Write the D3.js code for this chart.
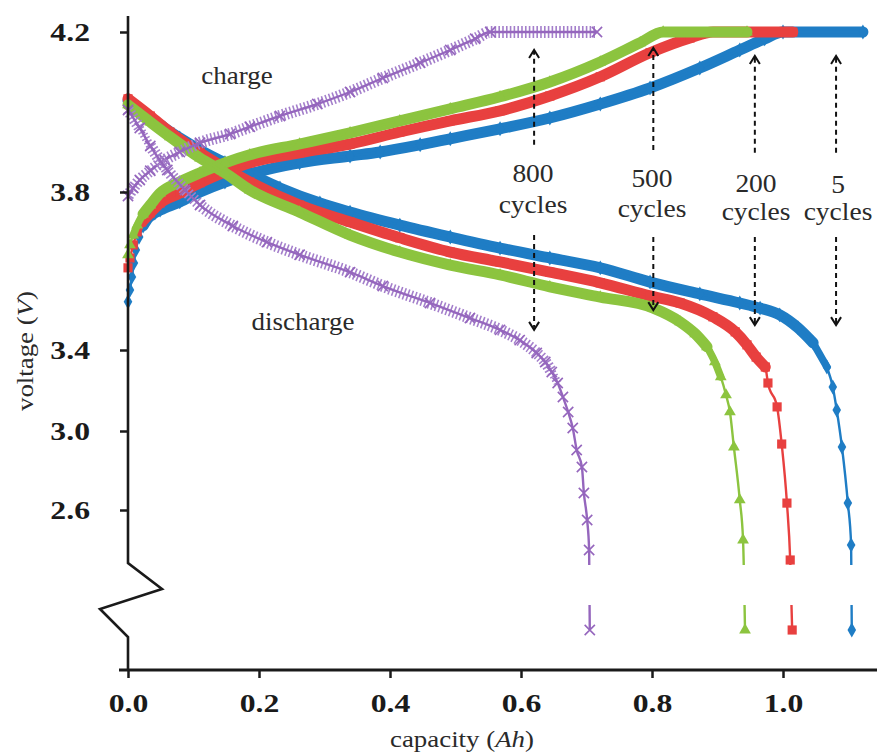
<!DOCTYPE html>
<html>
<head>
<meta charset="utf-8">
<script src="https://cdn.jsdelivr.net/npm/d3@7"></script>
<style>
  html, body { margin: 0; padding: 0; background: #fff; }
  svg { display: block; }
  text { font-family: 'Liberation Serif', 'Times New Roman', serif; }
</style>
</head>
<body>
<svg id="chart" width="877" height="753"></svg>
<script>
// ---- charge / discharge curves: capacity (Ah) and voltage (V) ----
const chargeCap5 = [0, 0.003, 0.006, 0.009, 0.012, 0.017, 0.023, 0.031, 0.041, 0.049, 0.079, 0.110, 0.148, 0.186, 0.262, 0.339, 0.385, 0.446, 0.492, 0.568, 0.644, 0.721, 0.797, 0.873, 0.934, 0.972, 1.000, 1.122];
const chargeV5   = [3.522, 3.552, 3.585, 3.620, 3.653, 3.686, 3.714, 3.734, 3.747, 3.754, 3.775, 3.800, 3.825, 3.845, 3.873, 3.890, 3.900, 3.918, 3.933, 3.958, 3.985, 4.020, 4.060, 4.110, 4.155, 4.183, 4.200, 4.200];
const dischargeCap5 = [0, 0.018, 0.034, 0.056, 0.079, 0.110, 0.148, 0.186, 0.232, 0.293, 0.339, 0.415, 0.492, 0.568, 0.644, 0.721, 0.797, 0.873, 0.934, 0.965, 0.995, 1.023, 1.046, 1.067, 1.076, 1.082, 1.090, 1.099, 1.104, 1.105];
const dischargeV5   = [4.028, 4.005, 3.985, 3.960, 3.935, 3.905, 3.873, 3.845, 3.810, 3.772, 3.749, 3.716, 3.686, 3.658, 3.633, 3.608, 3.572, 3.542, 3.519, 3.506, 3.489, 3.456, 3.418, 3.316, 3.217, 3.104, 2.919, 2.635, 2.425, 2.000];

const chargeCap200 = [0, 0.003, 0.008, 0.014, 0.021, 0.034, 0.049, 0.079, 0.110, 0.148, 0.186, 0.262, 0.339, 0.415, 0.492, 0.568, 0.644, 0.721, 0.797, 0.858, 0.893, 1.015];
const chargeV200   = [3.608, 3.633, 3.666, 3.699, 3.724, 3.747, 3.772, 3.797, 3.823, 3.850, 3.873, 3.898, 3.920, 3.950, 3.978, 4.003, 4.040, 4.088, 4.148, 4.185, 4.200, 4.200];
const dischargeCap200 = [0, 0.034, 0.064, 0.110, 0.148, 0.186, 0.262, 0.339, 0.415, 0.492, 0.568, 0.644, 0.721, 0.797, 0.843, 0.893, 0.927, 0.945, 0.959, 0.973, 0.977, 0.991, 0.998, 1.006, 1.011, 1.014];
const dischargeV200   = [4.033, 3.990, 3.950, 3.898, 3.860, 3.825, 3.767, 3.724, 3.684, 3.648, 3.623, 3.597, 3.570, 3.537, 3.519, 3.484, 3.446, 3.413, 3.365, 3.316, 3.237, 3.119, 2.934, 2.635, 2.350, 2.000];

const chargeCap500 = [0, 0.003, 0.008, 0.014, 0.023, 0.034, 0.049, 0.079, 0.110, 0.148, 0.186, 0.262, 0.339, 0.415, 0.492, 0.568, 0.644, 0.721, 0.782, 0.817, 0.945];
const chargeV500   = [3.641, 3.666, 3.691, 3.716, 3.744, 3.767, 3.797, 3.825, 3.848, 3.873, 3.893, 3.920, 3.948, 3.978, 4.008, 4.038, 4.075, 4.125, 4.173, 4.200, 4.200];
const dischargeCap500 = [0, 0.034, 0.064, 0.110, 0.148, 0.186, 0.262, 0.339, 0.415, 0.492, 0.568, 0.644, 0.721, 0.802, 0.843, 0.866, 0.884, 0.896, 0.905, 0.913, 0.919, 0.925, 0.934, 0.939, 0.942];
const dischargeV500   = [4.018, 3.975, 3.938, 3.885, 3.848, 3.805, 3.749, 3.691, 3.648, 3.615, 3.590, 3.560, 3.534, 3.506, 3.471, 3.441, 3.408, 3.341, 3.267, 3.178, 3.094, 2.919, 2.651, 2.450, 2.000];

const chargeCap800 = [0, 0.008, 0.018, 0.034, 0.056, 0.079, 0.110, 0.156, 0.186, 0.232, 0.289, 0.339, 0.389, 0.446, 0.492, 0.530, 0.553, 0.716];
const chargeV800   = [3.790, 3.810, 3.830, 3.853, 3.880, 3.900, 3.923, 3.945, 3.963, 3.990, 4.020, 4.050, 4.085, 4.123, 4.155, 4.183, 4.200, 4.200];
const dischargeCap800 = [0, 0.018, 0.034, 0.060, 0.087, 0.110, 0.160, 0.212, 0.262, 0.339, 0.389, 0.461, 0.522, 0.568, 0.598, 0.624, 0.637, 0.647, 0.656, 0.664, 0.672, 0.679, 0.685, 0.693, 0.696, 0.701, 0.704, 0.705];
const dischargeV800   = [4.005, 3.960, 3.915, 3.855, 3.805, 3.767, 3.714, 3.673, 3.641, 3.597, 3.562, 3.519, 3.481, 3.451, 3.425, 3.385, 3.341, 3.291, 3.237, 3.168, 3.094, 3.015, 2.904, 2.818, 2.686, 2.550, 2.400, 2.000];

// ---- axis ticks ----
const capTicks = [0, 0.2, 0.4, 0.6, 0.8, 1.0];
const voltTicks = [2.6, 3.0, 3.4, 3.8, 4.2];

// ---- cycle annotations (capacity of the arrow, voltages of its ends) ----
const cycleNames = ["800", "500", "200", "5"];
const cycleArrowCap = [0.620, 0.802, 0.957, 1.081];
const upperTailV = [3.918, 3.905, 3.898, 3.898];
const upperTipV  = [4.155, 4.160, 4.140, 4.140];
const lowerTailV = [3.691, 3.686, 3.686, 3.686];
const lowerTipV  = [3.451, 3.501, 3.463, 3.463];

const W = 877, H = 753;
const svg = d3.select("#chart");
const ink = "#1a1a1a";
const serif = "'Liberation Serif', 'Times New Roman', serif";

// capacity axis runs to the right edge; voltage axis is stretched above 3.4 V
const x = d3.scaleLinear().domain([0, 1.1435]).range([128, W]);
const y = d3.scaleLinear()
  .domain([1.8, 2.6, 3.0, 3.4, 3.8, 4.2])
  .range([670, 510, 431, 350, 192, 32]);

// axis break band
const gapTopV = 2.325, gapBottomV = 2.125;

const series = [
  { color: "#1f7dc5", band: "#1f7dc5", symbol: d3.symbolDiamond, size: 64, stroke: false,
    curves: [[chargeCap5, chargeV5], [dischargeCap5, dischargeV5]] },
  { color: "#e8403f", band: "#e8403f", symbol: d3.symbolSquare, size: 84, stroke: false,
    curves: [[chargeCap200, chargeV200], [dischargeCap200, dischargeV200]] },
  { color: "#8cc43f", band: "#8cc43f", symbol: d3.symbolTriangle, size: 60, stroke: false,
    curves: [[chargeCap500, chargeV500], [dischargeCap500, dischargeV500]] },
  { color: "#9566bd", band: "#a47fcb", symbol: d3.symbolTimes, size: 70, stroke: true,
    curves: [[chargeCap800, chargeV800], [dischargeCap800, dischargeV800]] }
];

const line = d3.line().x(d => x(d[0])).y(d => y(d[1])).curve(d3.curveMonotoneX);
const plot = svg.append("g");

// band width from how steep a stretch of curve is on screen
function bandWidth(a, b) {
  const dx = Math.abs(x(b[0]) - x(a[0]));
  const dy = Math.abs(y(b[1]) - y(a[1]));
  if (dx === 0) return 0;
  const m = dy / dx;
  return m < 1.6 ? 11 : (m < 2.6 ? 7.5 : 0);
}

series.forEach(s => {
  const g = plot.append("g");
  s.curves.forEach(([caps, volts]) => {
    const pts = caps.map((c, i) => [c, volts[i]]);

    // where successive samples sit close together the markers merge into a band
    const runs = [];
    let run = null;
    for (let i = 0; i < pts.length - 1; i++) {
      const w = bandWidth(pts[i], pts[i + 1]);
      if (w > 0) {
        if (!run || run.w !== w) { run = { w, pts: [pts[i]] }; runs.push(run); }
        run.pts.push(pts[i + 1]);
      } else {
        run = null;
      }
    }
    runs.forEach(r => {
      g.append("path")
        .attr("d", line(r.pts))
        .attr("fill", "none")
        .attr("stroke", s.band)
        .attr("stroke-width", s.stroke ? r.w + 1 : r.w)
        .attr("stroke-dasharray", s.stroke ? "1.6,2.2" : null)
        .attr("stroke-linecap", s.stroke ? "butt" : "round")
        .attr("stroke-linejoin", "round");
    });

    g.append("path")
      .attr("d", line(pts))
      .attr("fill", "none")
      .attr("stroke", s.color)
      .attr("stroke-width", 2.4);

    const sym = d3.symbol().type(s.symbol).size(s.size);
    g.selectAll(null)
      .data(pts)
      .join("path")
      .attr("transform", d => `translate(${x(d[0])},${y(d[1])})`)
      .attr("d", sym)
      .attr("fill", s.stroke ? "none" : s.color)
      .attr("stroke", s.stroke ? s.color : "none")
      .attr("stroke-width", s.stroke ? 1.6 : 0);
  });
});

// blank out the broken part of the voltage range
svg.append("rect")
  .attr("x", x(0) + 4)
  .attr("y", y(gapTopV))
  .attr("width", W - x(0) - 4)
  .attr("height", y(gapBottomV) - y(gapTopV))
  .attr("fill", "#fff");

// ---- axes ----
const tickStretch = 1.22;
const xAxis = svg.append("g")
  .attr("transform", `translate(0,${y(1.8)})`)
  .call(d3.axisBottom(x).tickValues(capTicks).tickFormat(d3.format(".1f")).tickSize(8).tickSizeOuter(0));
xAxis.select(".domain").remove();
xAxis.selectAll(".tick line").attr("stroke", ink).attr("stroke-width", 2.5);
xAxis.selectAll(".tick text")
  .attr("y", 42).attr("dy", 0)
  .attr("transform", `scale(${tickStretch},1)`)
  .attr("font-family", serif)
  .attr("font-size", 26).attr("font-weight", "bold").attr("fill", ink);
svg.append("line")
  .attr("x1", x(0) - 9).attr("x2", W)
  .attr("y1", y(1.8)).attr("y2", y(1.8))
  .attr("stroke", ink).attr("stroke-width", 2.8);

const yAxis = svg.append("g")
  .attr("transform", `translate(${x(0)},0)`)
  .call(d3.axisLeft(y).tickValues(voltTicks).tickFormat(d3.format(".1f")).tickSize(8));
yAxis.select(".domain").remove();
yAxis.selectAll(".tick line").attr("stroke", ink).attr("stroke-width", 2.5);
yAxis.selectAll(".tick text")
  .attr("x", -38 / tickStretch)
  .attr("transform", `scale(${tickStretch},1)`)
  .attr("font-family", serif)
  .attr("font-size", 26).attr("font-weight", "bold").attr("fill", ink);

// vertical axis line with a zigzag break
const ax = x(0);
const yb = y(2.335);
const axisPath = d3.path();
axisPath.moveTo(ax, y(4.2) - 16);
axisPath.lineTo(ax, yb);
axisPath.lineTo(ax + 34, yb + 26);
axisPath.lineTo(ax - 28, yb + 46);
axisPath.lineTo(ax, yb + 74);
axisPath.lineTo(ax, y(1.8));
svg.append("path")
  .attr("d", axisPath.toString())
  .attr("fill", "none")
  .attr("stroke", ink)
  .attr("stroke-width", 2.6)
  .attr("stroke-linejoin", "miter");

// text placed at a point and widened slightly
function label(parent, cx, cy, size, stretch, parts, rotate) {
  const t = parent.append("text")
    .attr("transform", `translate(${cx},${cy})${rotate ? ` rotate(${rotate})` : ""} scale(${stretch},1)`)
    .attr("text-anchor", "middle")
    .attr("font-family", serif)
    .attr("font-size", size)
    .attr("fill", "#2a2a2a");
  parts.forEach(([txt, italic]) => {
    t.append("tspan").attr("font-style", italic ? "italic" : null).text(txt);
  });
  return t;
}

// axis titles
label(svg, 462, 747, 24, 1.12, [["capacity ("], ["Ah", true], [")"]]);
label(svg, 33, 351, 24, 1.12, [["voltage ("], ["V", true], [")"]], -90);

// curve labels
label(svg, 237, 84, 25, 1.08, [["charge"]]);
label(svg, 303, 330, 25, 1.08, [["discharge"]]);

// cycle-count arrows
const ann = svg.append("g");
function arrow(cap, fromV, toV) {
  const ax0 = x(cap), y0 = y(fromV), y1 = y(toV);
  const dir = y1 < y0 ? -1 : 1;
  ann.append("line")
    .attr("x1", ax0).attr("x2", ax0).attr("y1", y0).attr("y2", y1 - dir * 2)
    .attr("stroke", "#111").attr("stroke-width", 2)
    .attr("stroke-dasharray", "5,4");
  ann.append("path")
    .attr("d", `M${ax0 - 5},${y1 - dir * 8}L${ax0},${y1}L${ax0 + 5},${y1 - dir * 8}`)
    .attr("fill", "none").attr("stroke", "#111").attr("stroke-width", 2);
}
cycleNames.forEach((name, i) => {
  arrow(cycleArrowCap[i], upperTailV[i], upperTipV[i]);
  arrow(cycleArrowCap[i], lowerTailV[i], lowerTipV[i]);
});

const labelX = [533, 652, 756, 838];
const numBase = [182, 187, 192, 193];
const wordBase = [213, 217, 220, 220];
cycleNames.forEach((name, i) => {
  label(ann, labelX[i], numBase[i], 25, 1.1, [[name]]);
  label(ann, labelX[i], wordBase[i], 25, 1.1, [["cycles"]]);
});
</script>
</body>
</html>
